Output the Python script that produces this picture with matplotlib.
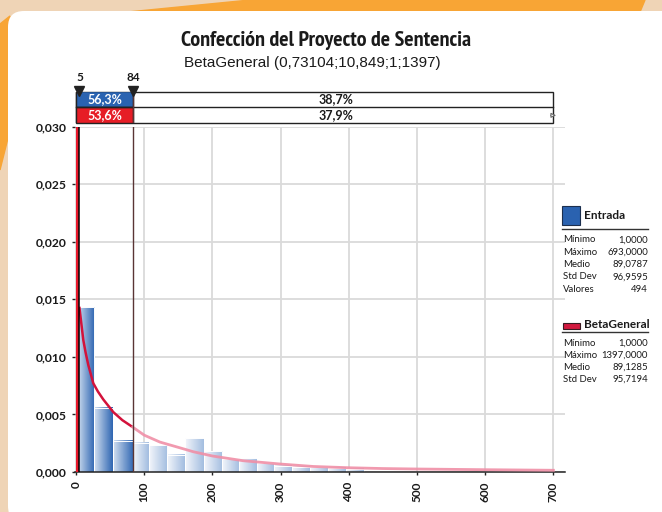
import numpy as np
import matplotlib.pyplot as plt
from matplotlib.patches import Rectangle, Polygon, FancyBboxPatch
from matplotlib.colors import LinearSegmentedColormap
from matplotlib import font_manager

# ---- data ----
title = 'Confección del Proyecto de Sentencia'
subtitle = 'BetaGeneral (0,73104;10,849;1;1397)'

bin_edges = [1, 27, 54, 84, 107, 134, 160, 187, 214, 239, 265, 291, 317, 343, 370, 396, 422]
bin_density = [0.0143, 0.0056, 0.0027, 0.00255, 0.00234, 0.00148, 0.00292, 0.00182,
               0.0011, 0.0012, 0.00075, 0.00055, 0.00046, 0.0004, 0.00037, 0.00029]

curve_x = [4.9, 7.5, 10.7, 14, 18, 25.4, 32, 40, 54.7, 68, 83.1,
           100, 123, 150, 172, 200, 245, 300, 348, 400, 450, 500, 600, 700]
curve_y = [0.01435, 0.01305, 0.01146, 0.0104, 0.0093, 0.0077, 0.0070, 0.0063, 0.0052, 0.0045, 0.0039,
           0.0032, 0.0026, 0.00214, 0.00176, 0.00139, 0.00098, 0.00069, 0.00048, 0.00037, 0.0003,
           0.00026, 0.0002, 0.00015]

x_ticks = [0, 100, 200, 300, 400, 500, 600, 700]
y_ticks = [0.0, 0.005, 0.010, 0.015, 0.020, 0.025, 0.030]
y_labels = ['0,000', '0,005', '0,010', '0,015', '0,020', '0,025', '0,030']

delim_left = 5
delim_right = 84
range_max = 700
pct_entrada = ['56,3%', '38,7%']
pct_beta = ['53,6%', '37,9%']

entrada_stats = [('Mínimo', '1,0000'), ('Máximo', '693,0000'), ('Medio', '89,0787'),
                 ('Std Dev', '96,9595'), ('Valores', '494')]
beta_stats = [('Mínimo', '1,0000'), ('Máximo', '1397,0000'), ('Medio', '89,1285'),
              ('Std Dev', '95,7194')]


def is_bold(f):
    w = f.weight
    if isinstance(w, str):
        return w in ('bold', 'heavy', 'black', 'semibold', 'demibold', 'extra bold')
    return w >= 600


# condensed bold face for the title if one is installed
narrow = [f for f in font_manager.fontManager.ttflist
          if ('Narrow' in f.name or 'Condensed' in f.name or f.stretch == 'condensed')
          and is_bold(f) and f.style == 'normal']
narrow.sort(key=lambda f: 'Narrow' not in f.name)
if narrow:
    title_font = font_manager.FontProperties(fname=narrow[0].fname, size=15.8)
else:
    title_font = font_manager.FontProperties(family='Roboto', weight='bold', size=12)

W, H = 662, 512
fig = plt.figure(figsize=(W / 100, H / 100), dpi=100)
fig.patch.set_facecolor('#efd4b6')

# ---- background card ----
bg = fig.add_axes([0, 0, 1, 1], zorder=-5)
bg.set_xlim(0, W)
bg.set_ylim(H, 0)
bg.axis('off')
bg.add_patch(Polygon([(128, 12), (250, 0), (645, 0), (640, 12)], color='#f8a535'))
bg.add_patch(Polygon([(0, 24), (10, 16), (10, 130), (0, 170)], color='#f8a535'))
bg.add_patch(FancyBboxPatch((8, 11), 720, 511, boxstyle='round,pad=0,rounding_size=16',
                            fc='white', ec='none'))

# ---- main plot ----
x_lo, x_hi = -1.47, 717
ax = fig.add_axes([75 / W, 1 - 472 / H, 490 / W, 345.5 / H])

cmap_dark = LinearSegmentedColormap.from_list('dark', ['#d3e0f1', '#2f66b2'])
cmap_light = LinearSegmentedColormap.from_list('light', ['#f3f6fb', '#a3bde0'])
grad = np.linspace(0, 1, 64).reshape(1, -1)
for x0, x1, h in zip(bin_edges[:-1], bin_edges[1:], bin_density):
    cm = cmap_dark if x1 <= delim_right else cmap_light
    ax.imshow(grad, extent=(x0, x1, 0, h), cmap=cm, aspect='auto', zorder=2,
              interpolation='bilinear')
    ax.add_patch(Rectangle((x0, 0), x1 - x0, h, fill=False, ec='white', lw=0.7, zorder=2.5))

k = curve_x.index(83.1) + 1
ax.plot(curve_x[:k], curve_y[:k], color='#d3123b', lw=1.8, zorder=4, solid_capstyle='butt')
ax.plot(curve_x[k - 1:], curve_y[k - 1:], color='#f08fa7', lw=2.0, alpha=0.9, zorder=4)

ax.axvspan(-0.5, 4.8, color='#e8182b', lw=0, zorder=5)
ax.axvline(delim_left, color='black', lw=1.1, zorder=6)
ax.axvline(delim_right, color='#5a3535', lw=1.0, zorder=6)

ax.set_xlim(x_lo, x_hi)
ax.set_ylim(0, 0.030)
ax.set_xticks(x_ticks)
ax.set_xticklabels([str(t) for t in x_ticks], rotation=90, fontsize=8.5,
                   fontweight='bold', family='Lato', color='#1a1a1a')
ax.set_yticks(y_ticks)
ax.set_yticklabels(y_labels, fontsize=8.7, fontweight='bold', family='Lato', color='#1a1a1a')
ax.tick_params(axis='x', length=2.2, width=1, color='#222', pad=4.5)
ax.tick_params(axis='y', length=2.2, width=1, color='#222', pad=3.8)
ax.grid(True, color='#dadada', lw=1.3)
ax.set_axisbelow(True)
for s in ['left', 'top', 'right']:
    ax.spines[s].set_visible(False)
ax.spines['bottom'].set_color('#222')
ax.spines['bottom'].set_linewidth(1.1)

# ---- delimiter bar above the plot ----
axb = fig.add_axes([75 / W, 1 - 123.3 / H, 490 / W, 31.8 / H])
axb.set_xlim(x_lo, x_hi)
axb.set_ylim(0, 2)
axb.axis('off')
axb.add_patch(Rectangle((0, 0), range_max, 2, fill=False, ec='#222', lw=1, clip_on=False))
axb.plot([0, range_max], [1, 1], color='#222', lw=1)
axb.add_patch(Rectangle((0, 1), delim_right, 1, fc='#2a63b1', ec='#222', lw=1))
axb.add_patch(Rectangle((0, 0), delim_right, 1, fc='#e61d26', ec='#222', lw=1))
axb.axvline(delim_right, color='#5a3535', lw=1.0)
for y, (a, b) in zip([1.5, 0.5], [pct_entrada, pct_beta]):
    axb.text(delim_right / 2, y, a, ha='center', va='center', color='white',
             fontsize=9, fontweight='bold', family='Lato')
    axb.text(381, y, b, ha='center', va='center', color='#1a1a1a',
             fontsize=9, fontweight='bold', family='Lato')
axb.plot([delim_left, delim_right], [2.06, 2.06], marker='v', ms=6.5, color='#222',
         ls='none', clip_on=False)
for d in [delim_left, delim_right]:
    axb.text(d, 2.85, str(d), ha='center', va='center', fontsize=8.5, fontweight='bold',
             family='Lato', color='#1a1a1a')
axb.annotate('', xy=(708, 0.5), xytext=(692, 0.5),
             arrowprops=dict(arrowstyle='-|>', color='#666', lw=0.8, fc='white',
                             mutation_scale=7), annotation_clip=False)

# ---- titles ----
fig.text(326 / W, 1 - 46 / H, title, ha='center', va='baseline',
         fontproperties=title_font, color='#1a1a1a')
fig.text(312.5 / W, 1 - 66.7 / H, subtitle, ha='center', va='baseline', fontsize=11,
         family='Liberation Sans', color='#1a1a1a')

# ---- legend / statistics ----
ov = fig.add_axes([0, 0, 1, 1], zorder=10)
ov.set_xlim(0, W)
ov.set_ylim(H, 0)
ov.axis('off')

ov.add_patch(Rectangle((562, 206), 18, 19, fc='#2a62b0', ec='#1c2f4e', lw=0.8))
ov.text(584, 215.5, 'Entrada', va='center', fontsize=8.5, fontweight='bold', family='Lato',
        color='#1a1a1a')
ov.plot([562, 648], [228.5, 228.5], color='#333', lw=1)
for i, (lab, val) in enumerate(entrada_stats):
    y = 240 + i * 12.3
    ov.text(563, y, lab, va='center', fontsize=6.9, family='Lato', color='#1a1a1a')
    ov.text(648, y, val, va='center', ha='right', fontsize=6.9, family='Lato', color='#1a1a1a')

ov.add_patch(Rectangle((563, 322.5), 17, 6, fc='#d2193f', ec='#3a1a22', lw=0.8))
ov.text(584, 324, 'BetaGeneral', va='center', fontsize=8.5, fontweight='bold', family='Lato',
        color='#1a1a1a')
ov.plot([562, 648], [331.5, 331.5], color='#333', lw=1)
for i, (lab, val) in enumerate(beta_stats):
    y = 343.5 + i * 12
    ov.text(563, y, lab, va='center', fontsize=6.9, family='Lato', color='#1a1a1a')
    ov.text(648, y, val, va='center', ha='right', fontsize=6.9, family='Lato', color='#1a1a1a')

fig.savefig('out.png', dpi=100, facecolor=fig.get_facecolor())
